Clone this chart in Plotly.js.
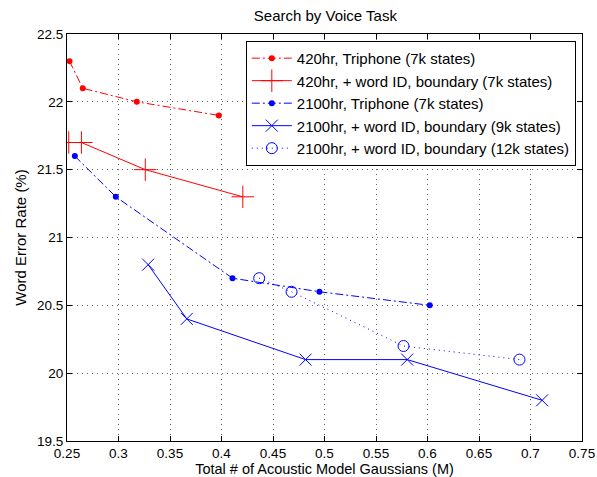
<!DOCTYPE html>
<html><head><meta charset="utf-8">
<script src="https://cdn.plot.ly/plotly-3.0.1.min.js"></script>
<style>html,body{margin:0;padding:0;background:#fff}#c{width:597px;height:477px}</style>
</head><body><div id="c"></div>
<script>
const names = [
  "420hr, Triphone (7k states)",
  "420hr, + word ID, boundary (7k states)",
  "2100hr, Triphone (7k states)",
  "2100hr, + word ID, boundary (9k states)",
  "2100hr, + word ID, boundary (12k states)"
];
const x420tri = [0.2524, 0.2653, 0.3178, 0.3974];
const y420tri = [22.30, 22.10, 22.00, 21.90];
const x420wid = [0.2517, 0.2640, 0.3260, 0.4207];
const y420wid = [21.70, 21.70, 21.50, 21.30];
const x2100tri = [0.2576, 0.2974, 0.4107, 0.4951, 0.6022];
const y2100tri = [21.60, 21.30, 20.70, 20.60, 20.50];
const x2100wid9k = [0.3288, 0.3663, 0.4816, 0.5803, 0.7113];
const y2100wid9k = [20.80, 20.40, 20.10, 20.10, 19.80];
const x2100wid12k = [0.4366, 0.4680, 0.5767, 0.6893];
const y2100wid12k = [20.70, 20.60, 20.20, 20.10];
const xTicks = [0.25,0.3,0.35,0.4,0.45,0.5,0.55,0.6,0.65,0.7,0.75];
const yTicks = [19.5,20,20.5,21,21.5,22,22.5];

const red = "#ff0000", blue = "#0000ff";
const ddash = "8px,3px,2px,3px";
const traces = [
  {x:x420tri, y:y420tri, name:names[0], mode:"lines+markers",
   line:{color:red,width:1,dash:ddash}, marker:{color:red,size:6,symbol:"circle"}},
  {x:x420wid, y:y420wid, name:names[1], mode:"lines+markers",
   line:{color:red,width:1,dash:"solid"}, marker:{color:red,size:16,symbol:"cross-thin-open",line:{color:red,width:1}}},
  {x:x2100tri, y:y2100tri, name:names[2], mode:"lines+markers",
   line:{color:blue,width:1,dash:ddash}, marker:{color:blue,size:6,symbol:"circle"}},
  {x:x2100wid9k, y:y2100wid9k, name:names[3], mode:"lines+markers",
   line:{color:blue,width:1,dash:"solid"}, marker:{color:blue,size:12,symbol:"x-thin-open",line:{color:blue,width:1}}},
  {x:x2100wid12k, y:y2100wid12k, name:names[4], mode:"lines+markers",
   line:{color:blue,width:1,dash:"1px,4px"}, marker:{color:blue,size:11,symbol:"circle-open",line:{color:blue,width:1}}}
];
const axisCommon = {
  showline:true, linecolor:"#000", linewidth:1, mirror:"ticks",
  ticks:"inside", ticklen:5, tickcolor:"#000",
  showgrid:true, gridcolor:"#666", griddash:"1px,4px", gridwidth:1,
  zeroline:false, tickfont:{family:"Liberation Sans, Arial, sans-serif", size:13.5, color:"#000"}
};
const layout = {
  width:597, height:477,
  margin:{l:66.5, r:15, t:34, b:36},
  paper_bgcolor:"#fff", plot_bgcolor:"#fff",
  font:{family:"Liberation Sans, Arial, sans-serif", color:"#000"},
  title:{text:"Search by Voice Task", font:{size:15, color:"#000"}, x:0.545, xanchor:"center", y:0.966, yanchor:"middle"},
  xaxis:Object.assign({}, axisCommon, {range:[0.25,0.75], tickvals:xTicks, ticktext:xTicks.map(String),
    title:{text:"Total # of Acoustic Model Gaussians (M)", font:{size:14.5}, standoff:5}}),
  yaxis:Object.assign({}, axisCommon, {range:[19.5,22.5], tickvals:yTicks, ticktext:yTicks.map(String),
    title:{text:"Word Error Rate (%)", font:{size:15}, standoff:6}}),
  legend:{x:0.988, y:0.983, xanchor:"right", yanchor:"top", bgcolor:"#fff", bordercolor:"#000", borderwidth:1,
    font:{size:15, color:"#000"}, tracegroupgap:0, itemwidth:40},
  showlegend:true
};
Plotly.newPlot("c", traces, layout, {staticPlot:true, displayModeBar:false});
</script></body></html>
